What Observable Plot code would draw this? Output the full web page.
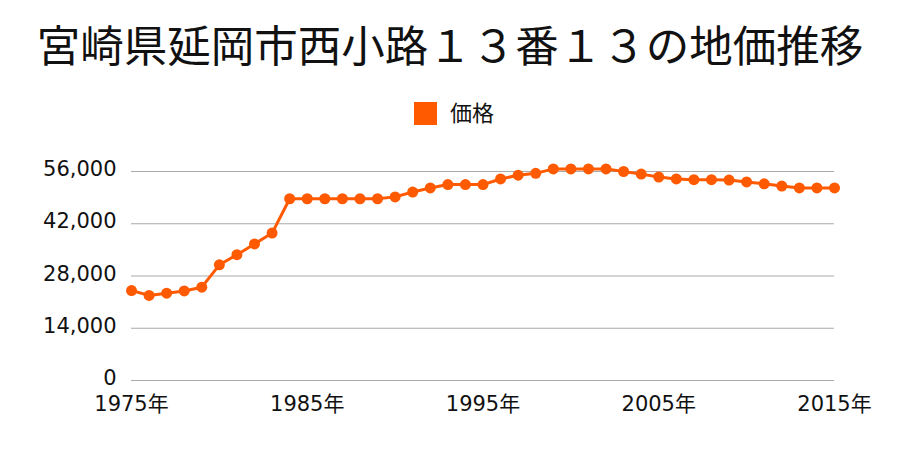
<!DOCTYPE html>
<html><head><meta charset="utf-8">
<script src="https://cdn.jsdelivr.net/npm/d3@7"></script>
<script src="https://cdn.jsdelivr.net/npm/@observablehq/plot@0.6"></script>
<style>
body{margin:0;background:#fff;font-family:"Noto Sans CJK JP","Noto Sans",sans-serif;}
#wrap{position:relative;width:900px;height:450px;overflow:hidden;}
#title{position:absolute;left:0;top:13px;width:900px;text-align:center;font-size:43.5px;line-height:62px;color:#111;white-space:nowrap;}
#legend{position:absolute;left:0;top:96px;width:900px;text-align:center;font-size:22px;line-height:30px;color:#111;padding-left:4px;}
#legend span.sw{display:inline-block;width:23px;height:23px;background:#ff5a00;vertical-align:-4px;margin-right:13px;}
#chart{position:absolute;left:0;top:140px;}
</style></head>
<body><div id="wrap">
<div id="title">宮崎県延岡市西小路１３番１３の地価推移</div>
<div id="legend"><span class="sw"></span>価格</div>
<div id="chart"></div>
</div>
<script>
const years = d3.range(1975, 2016);
const prices = [24100, 22800, 23400, 24000, 25000, 31000, 33700, 36600, 39500, 48700,
  48700, 48700, 48700, 48700, 48700, 49200, 50500, 51600, 52500, 52500,
  52500, 54000, 55000, 55500, 56700, 56700, 56700, 56700, 56000, 55300,
  54500, 54000, 53800, 53800, 53700, 53200, 52700, 52100, 51600, 51600, 51600];
const yTicks = [0, 14000, 28000, 42000, 56000];
const xTicks = [1975, 1985, 1995, 2005, 2015];
const data = years.map((y, i) => ({year: y, price: prices[i]}));
const color = "#ff5a00";
const chart = Plot.plot({
  width: 900, height: 310,
  marginTop: 31, marginBottom: 70, marginLeft: 131, marginRight: 66,
  style: {fontFamily: '"DejaVu Sans","Noto Sans CJK JP",sans-serif', fontSize: "21px", color: "#111", background: "#fff"},
  x: {domain: [1975, 2015], label: null},
  y: {domain: [0, 56000], label: null},
  marks: [
    Plot.gridY(yTicks, {stroke: "#aaa", strokeOpacity: 1, strokeWidth: 1}),
    Plot.line(data, {x: "year", y: "price", stroke: color, strokeWidth: 3}),
    Plot.dot(data, {x: "year", y: "price", fill: color, r: 5.5}),
    Plot.axisX({ticks: xTicks, tickFormat: d => d + "年", tickSize: 0, tickPadding: 16, fontSize: 21}),
    Plot.axisY({ticks: yTicks, tickFormat: d3.format(","), tickSize: 0, tickPadding: 15, fontSize: 21, dy: -2})
  ]
});
document.getElementById("chart").appendChild(chart);
</script>
</body></html>
